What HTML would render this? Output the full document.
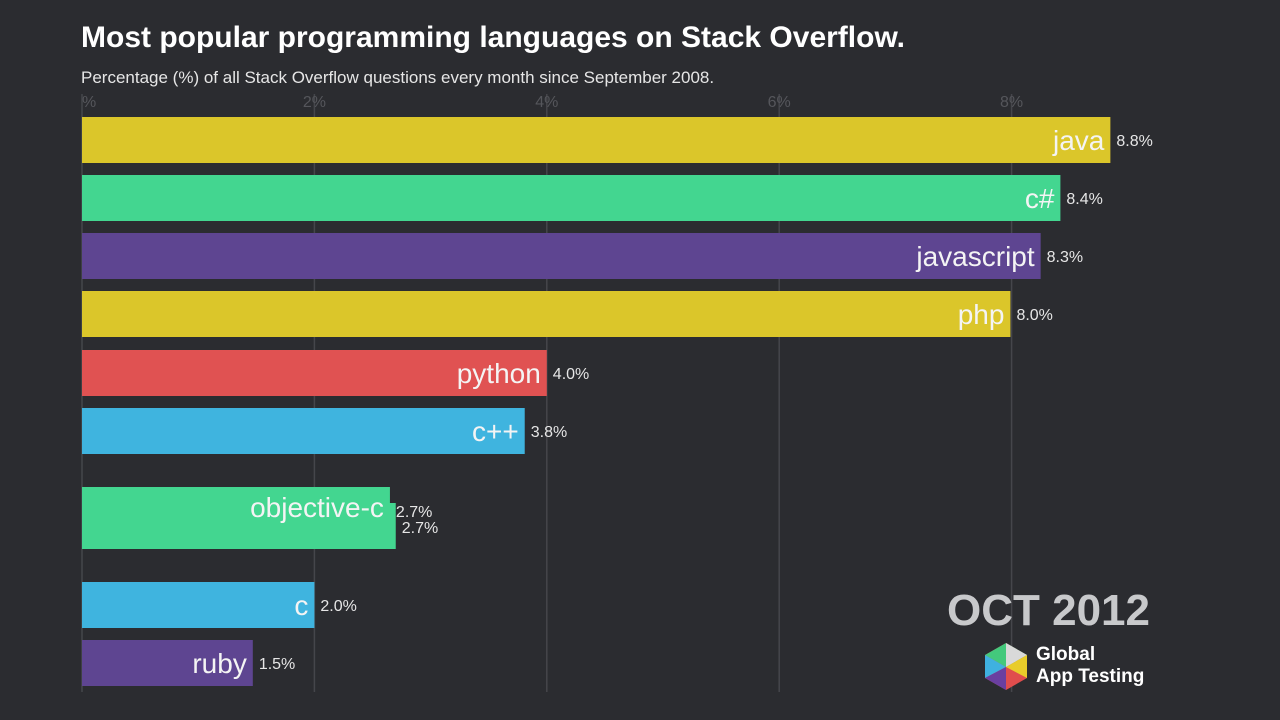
<!DOCTYPE html>
<html><head><meta charset="utf-8"><style>
body{margin:0;width:1280px;height:720px;background:#2b2c30;overflow:hidden;font-family:"Liberation Sans","DejaVu Sans",sans-serif}
svg{display:block}
</style></head><body>
<svg id="chart" width="1280" height="720">
<rect width="1280" height="720" fill="#2b2c30"/>
<text x="81" y="47" fill="#ffffff" font-size="30" font-weight="bold">Most popular programming languages on Stack Overflow.</text>
<text x="81" y="83" fill="#e6e6e6" font-size="17">Percentage (%) of all Stack Overflow questions every month since September 2008.</text>
<g id="grid"></g>
<g id="bars"></g>
<g id="labels"></g>
<text x="1150" y="625" text-anchor="end" fill="#c8c9cb" font-size="44" font-weight="bold">OCT 2012</text>
<g>
<polygon points="1006,643 1027,655 1027,678 1006,690 985,678 985,655" fill="#e04d4d"/>
<polygon points="1006,643 1027,655 1006,667 985,655" fill="#43c97c"/>
<polygon points="1006,643 1027,655 1006,667" fill="#d9d9d9"/>
<polygon points="1027,655 1027,678 1006,667" fill="#e8cc2a"/>
<polygon points="985,655 1006,667 985,678" fill="#3fb1e0"/>
<polygon points="985,678 1006,667 1006,690" fill="#6a3fa0"/>
<text x="1036" y="660" fill="#fff" font-size="19" font-weight="bold">Global</text>
<text x="1036" y="682" fill="#fff" font-size="19" font-weight="bold">App Testing</text>
</g>
</svg>
<script>
const languages=["java","c#","javascript","php","python","c++","objective-c","","c","ruby"];
const values=[8.85,8.42,8.25,7.99,4.0,3.81,2.65,2.70,2.0,1.47];
const valueLabels=["8.8%","8.4%","8.3%","8.0%","4.0%","3.8%","2.7%","2.7%","2.0%","1.5%"];
const rowTops=[117,175,233,291,350,408,487,503,582,640];
const colors=["#dbc62a","#43d690","#5e4591","#dbc62a","#e05252","#3fb4df","#43d690","#43d690","#3fb4df","#5e4591"];
const ticks=[0,2,4,6,8];
const tickLabels=["%","2%","4%","6%","8%"];
const NS="http://www.w3.org/2000/svg";
const x=v=>82+v*116.2;
const grid=document.getElementById('grid'),bars=document.getElementById('bars'),labels=document.getElementById('labels');
ticks.forEach((t,i)=>{
 const l=document.createElementNS(NS,'line');
 
 
 l.setAttribute('x1',x(t));l.setAttribute('x2',x(t));l.setAttribute('y1',94);l.setAttribute('y2',692);
 l.setAttribute('stroke','#45464b');l.setAttribute('stroke-width','1.5');grid.appendChild(l);
 const tx=document.createElementNS(NS,'text');
 
 
 tx.setAttribute('x',x(t));tx.setAttribute('y',107);tx.setAttribute('text-anchor',i==0?'start':'middle');
 tx.setAttribute('fill','#55565b');tx.setAttribute('font-size','16');tx.textContent=tickLabels[i];grid.appendChild(tx);
});
values.forEach((v,i)=>{
 const y=rowTops[i],h=46;
 const r=document.createElementNS(NS,'rect');
 
 
 r.setAttribute('x',82);r.setAttribute('y',y);r.setAttribute('width',x(v)-82);r.setAttribute('height',h);
 r.setAttribute('fill',colors[i]);bars.appendChild(r);
 if(languages[i]){
  const t=document.createElementNS(NS,'text');
  
  
  t.setAttribute('x',x(v)-6);t.setAttribute('y',y+h/2+(i==6?7:10));t.setAttribute('text-anchor','end');
  t.setAttribute('fill','#f4f4f4');t.setAttribute('font-size','28');t.textContent=languages[i];labels.appendChild(t);
 }
 const vl=document.createElementNS(NS,'text');
 
 
 vl.setAttribute('x',x(v)+6);vl.setAttribute('y',y+h/2+(i==6||i==7?7:6));
 vl.setAttribute('fill','#e6e6e6');vl.setAttribute('font-size','16');vl.textContent=valueLabels[i];labels.appendChild(vl);
});
</script>
</body></html>
